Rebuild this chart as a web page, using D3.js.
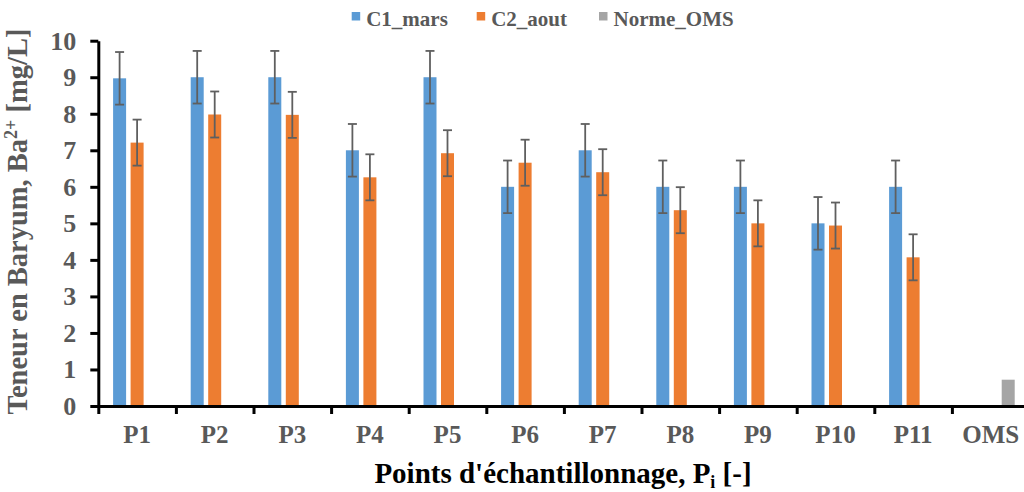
<!DOCTYPE html>
<html>
<head>
<meta charset="utf-8">
<script src="https://cdn.jsdelivr.net/npm/d3@7"></script>
<style>
  html, body { margin: 0; padding: 0; background: #fff; }
  svg { display: block; }
  text { font-family: "Liberation Serif", "Times New Roman", serif; font-weight: bold; }
</style>
</head>
<body>
<svg id="chart" width="1024" height="492"></svg>
<script>
const categories = ["P1","P2","P3","P4","P5","P6","P7","P8","P9","P10","P11","OMS"];
const seriesNames = ["C1_mars","C2_aout","Norme_OMS"];
const c1Mars   = [8.97, 9.0, 9.0, 7.0, 9.0, 6.0, 7.0, 6.0, 6.0, 5.0, 6.0, null];
const c2Aout   = [7.21, 7.98, 7.97, 6.26, 6.92, 6.66, 6.40, 5.36, 5.0, 4.94, 4.07, null];
const normeOMS = [null, null, null, null, null, null, null, null, null, null, null, 0.72];
const c1Err    = [0.72, 0.72, 0.72, 0.72, 0.72, 0.72, 0.72, 0.72, 0.72, 0.72, 0.72, null];
const c2Err    = [0.63, 0.63, 0.63, 0.63, 0.63, 0.63, 0.63, 0.63, 0.63, 0.63, 0.63, null];
const yTicks   = [0,1,2,3,4,5,6,7,8,9,10];
const colors   = ["#5B9BD5", "#ED7D31", "#A5A5A5"];

const svg = d3.select("#chart");
const left = 98.3, catW = 77.6;
const y0 = 406, yTop = 40.7;

const x = d3.scaleBand().domain(categories).range([left, left + catW * categories.length]).padding(0);
const inner = d3.scaleBand().domain(seriesNames).range([12.55, 12.55 + 52.5]).paddingInner(0.257).paddingOuter(0.1285);
const y = d3.scaleLinear().domain([0, 10]).range([y0, yTop]);

const seriesVals = [c1Mars, c2Aout, normeOMS];
const seriesErr = [c1Err, c2Err, null];

// bars
seriesNames.forEach((s, si) => {
  const data = categories.map((c, i) => ({c, v: seriesVals[si][i], e: seriesErr[si] ? seriesErr[si][i] : null}))
    .filter(d => d.v != null);
  svg.append("g").selectAll("rect").data(data).join("rect")
    .attr("x", d => x(d.c) + inner(s))
    .attr("width", inner.bandwidth())
    .attr("y", d => y(d.v))
    .attr("height", d => y(0) - y(d.v))
    .attr("fill", colors[si]);
  // error bars
  const eg = svg.append("g").attr("stroke", "#5f5f5f").attr("stroke-width", 1.8);
  data.filter(d => d.e != null).forEach(d => {
    const cx = x(d.c) + inner(s) + inner.bandwidth() / 2;
    eg.append("line").attr("x1", cx).attr("x2", cx).attr("y1", y(d.v + d.e)).attr("y2", y(d.v - d.e));
    eg.append("line").attr("x1", cx - 4.5).attr("x2", cx + 4.5).attr("y1", y(d.v + d.e)).attr("y2", y(d.v + d.e));
    eg.append("line").attr("x1", cx - 4.5).attr("x2", cx + 4.5).attr("y1", y(d.v - d.e)).attr("y2", y(d.v - d.e));
  });
});

// y axis
const yAxis = svg.append("g").attr("transform", `translate(${left},0)`)
  .call(d3.axisLeft(y).tickValues(yTicks).tickSize(8).tickPadding(14).tickSizeOuter(0));
yAxis.select(".domain").attr("stroke", "#000").attr("stroke-width", 3);
yAxis.selectAll(".tick line").attr("stroke", "#000").attr("stroke-width", 3);
yAxis.selectAll(".tick text").attr("fill", "#595959").attr("font-size", 26)
  .attr("font-family", "Liberation Serif").attr("font-weight", "bold");

// x axis
const xAxisScale = d3.scaleLinear().domain([0, categories.length]).range([left, left + catW * categories.length]);
const xAxis = svg.append("g").attr("transform", `translate(0,${y0})`)
  .call(d3.axisBottom(xAxisScale).tickValues(d3.range(0, categories.length)).tickSize(8).tickFormat("").tickSizeOuter(0));
xAxis.select(".domain").attr("stroke", "#000").attr("stroke-width", 3);
xAxis.selectAll(".tick line").attr("stroke", "#000").attr("stroke-width", 3);

svg.append("g").selectAll("text").data(categories).join("text")
  .attr("x", d => x(d) + x.bandwidth() / 2)
  .attr("y", 443)
  .attr("text-anchor", "middle")
  .attr("fill", "#595959")
  .attr("font-size", 25)
  .text(d => d);

// x title
const xt = svg.append("text").attr("x", 563).attr("y", 483).attr("text-anchor", "middle")
  .attr("fill", "#000").attr("font-size", 29);
xt.append("tspan").text("Points d'échantillonnage, P");
xt.append("tspan").attr("font-size", 18).attr("dy", 5).text("i");
xt.append("tspan").attr("dy", -5).text(" [-]");

// y title
const yt = svg.append("text").attr("transform", "translate(27,221.5) rotate(-90)")
  .attr("text-anchor", "middle").attr("fill", "#595959").attr("font-size", 28.5);
yt.append("tspan").text("Teneur en Baryum, Ba");
yt.append("tspan").attr("font-size", 18).attr("dy", -10).text("2+");
yt.append("tspan").attr("dy", 10).text(" [mg/L]");

// legend
const legendX = [351.7, 476.7, 599];
const lg = svg.append("g");
seriesNames.forEach((s, i) => {
  lg.append("rect").attr("x", legendX[i]).attr("y", 12).attr("width", 8.5).attr("height", 8.5).attr("fill", colors[i]);
  lg.append("text").attr("x", legendX[i] + 14.5).attr("y", 25.5).attr("fill", "#595959").attr("font-size", 21).text(s);
});
</script>
</body>
</html>
